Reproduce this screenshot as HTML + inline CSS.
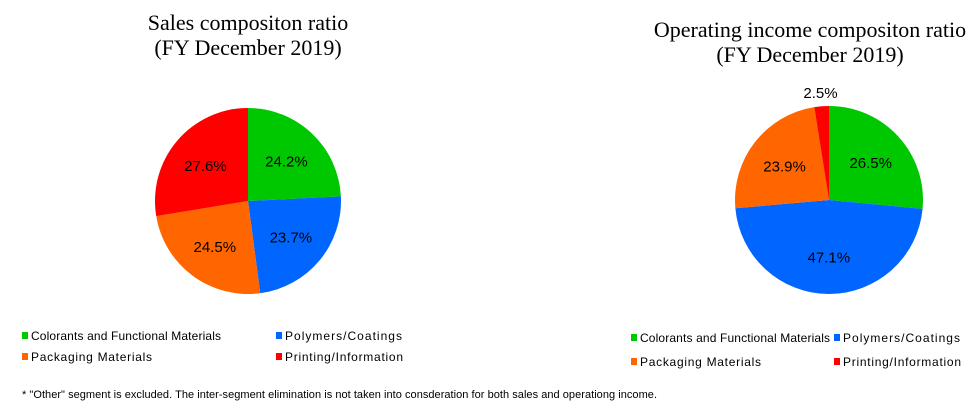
<!DOCTYPE html>
<html><head><meta charset="utf-8"><style>
html,body{margin:0;padding:0;background:#fff;width:973px;height:410px;overflow:hidden}
svg text{font-family:"Liberation Sans",sans-serif}
.t{font-family:"Liberation Serif",serif;font-size:22px;fill:#000}
</style></head><body>
<svg id="s" width="973" height="410">
<text class="t" x="248" y="30" text-anchor="middle">Sales compositon ratio</text>
<text class="t" x="248" y="55" text-anchor="middle">(FY December 2019)</text>
<text class="t" x="810" y="37" text-anchor="middle">Operating income compositon  ratio</text>
<text class="t" x="810" y="62" text-anchor="middle">(FY December 2019)</text>
<g id="p1"></g>
<g id="p2"></g>
<g id="lg"></g>
<text x="22" y="398" font-size="11" textLength="635">* "Other" segment is excluded. The inter-segment elimination is not taken into consderation for both sales and operationg income.</text>
</svg>
<script>
const categories=["Colorants and Functional Materials","Polymers/Coatings","Packaging Materials","Printing/Information"];
const colors=["#00c800","#0066ff","#ff6600","#ff0000"];
const salesValues=[24.2,23.7,24.5,27.6];
const incomeValues=[26.5,47.1,23.9,2.5];
const NS="http://www.w3.org/2000/svg";
function pie(g,vals,cx,cy,r,name){
  const tot=vals.reduce((a,b)=>a+b,0);let a0=0;
  vals.forEach((v,i)=>{
    const a1=a0+v/tot*2*Math.PI;
    const x0=cx+r*Math.sin(a0),y0=cy-r*Math.cos(a0),x1=cx+r*Math.sin(a1),y1=cy-r*Math.cos(a1);
    const p=document.createElementNS(NS,"path");
    p.setAttribute("d",`M${cx},${cy}L${x0},${y0}A${r},${r} 0 ${a1-a0>Math.PI?1:0} 1 ${x1},${y1}Z`);
    p.setAttribute("fill",colors[i]);
    
    
    g.appendChild(p);
    const am=(a0+a1)/2;const f=v<5?1.15:0.6;
    const t=document.createElementNS(NS,"text");
    t.setAttribute("x",cx+f*r*Math.sin(am));t.setAttribute("y",cy-f*r*Math.cos(am)+6);
    t.setAttribute("text-anchor","middle");t.setAttribute("font-size","15");
    t.textContent=v.toFixed(1)+"%";
    
    
    g.appendChild(t);
    a0=a1;
  });
}
pie(document.getElementById("p1"),salesValues,248,201,93,"sales");
pie(document.getElementById("p2"),incomeValues,829,200,94,"income");
const lg=document.getElementById("lg");
function leg(i,x,y,w){
  const r=document.createElementNS(NS,"rect");
  r.setAttribute("x",x);r.setAttribute("y",y-8);r.setAttribute("width",6);r.setAttribute("height",7);r.setAttribute("fill",colors[i]);
  
  
  lg.appendChild(r);
  const t=document.createElementNS(NS,"text");
  t.setAttribute("x",x+9);t.setAttribute("y",y);t.setAttribute("font-size","12");t.setAttribute("textLength",w);
  t.textContent=categories[i];
  
  
  lg.appendChild(t);
}
const wd=[190,117,121,118];
leg(0,22,340,wd[0]);leg(1,276,340,wd[1]);leg(2,22,361,wd[2]);leg(3,276,361,wd[3]);
leg(0,631,342,wd[0]);leg(1,834,342,wd[1]);leg(2,631,366,wd[2]);leg(3,834,366,wd[3]);
</script>
</body></html>
